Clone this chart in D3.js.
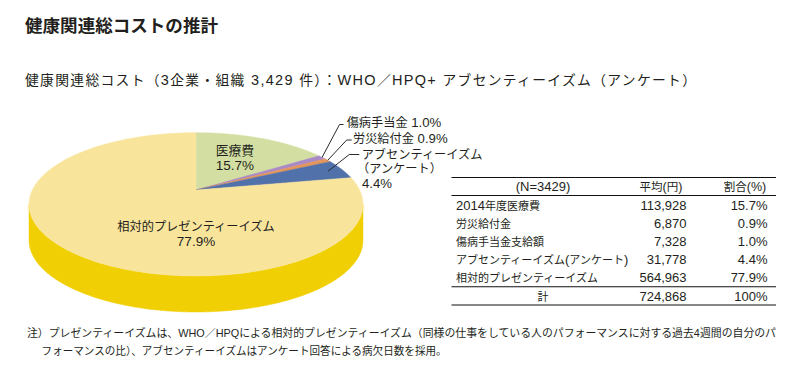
<!DOCTYPE html>
<html><head><meta charset="utf-8">
<script src="https://cdn.jsdelivr.net/npm/d3@7"></script>
<style>
html,body{margin:0;padding:0;background:#fff;}
svg{display:block;font-family:'Liberation Sans','Noto Sans CJK JP',sans-serif;}
</style></head>
<body><svg id="c" width="807" height="377"></svg>
<script>
// ---- data ----
const title = "健康関連総コストの推計";
const subtitle = "健康関連総コスト（3企業・組織 3,429 件）：WHO／HPQ+ アブセンティーイズム（アンケート）";
const sliceNames = ["医療費", "傷病手当金", "労災給付金", "アブセンティーイズム（アンケート）", "相対的プレゼンティーイズム"];
const sliceShares = [15.7, 1.0, 0.9, 4.4, 77.9];
const sliceColors = ["#d3dfa2", "#a98ac6", "#e3955c", "#5171aa", "#f9e49c"];
const tableHeader = ["(N=3429)", "平均(円)", "割合(%)"];
const tableLabels = ["2014年度医療費", "労災給付金", "傷病手当金支給額", "アブセンティーイズム(アンケート)", "相対的プレゼンティーイズム", "計"];
const tableAvg = [113928, 6870, 7328, 31778, 564963, 724868];
const tableShare = ["15.7%", "0.9%", "1.0%", "4.4%", "77.9%", "100%"];
const notes = [
  "注）プレゼンティーイズムは、WHO／HPQによる相対的プレゼンティーイズム（同様の仕事をしている人のパフォーマンスに対する過去4週間の自分のパ",
  "フォーマンスの比）、アブセンティーイズムはアンケート回答による病欠日数を採用。"
];

const svg = d3.select("#c");
const ink = "#231f20";

// text with separate sizes for CJK and Latin runs
function runs(sel, str, latin, cjk) {
  const re = /[\u3000-\u9fff\uff00-\uffef]+|[^\u3000-\u9fff\uff00-\uffef]+/g;
  (str.match(re) || []).forEach(r => {
    const isCjk = /[\u3000-\u9fff\uff00-\uffef]/.test(r[0]);
    sel.append("tspan").attr("font-size", isCjk ? cjk : latin).text(r);
  });
  return sel;
}

// ---- titles ----
svg.append("text").attr("x", 25).attr("y", 31.5).attr("fill", ink)
  .attr("font-weight", "bold").attr("font-size", 17.5)
  .attr("textLength", 193).attr("lengthAdjust", "spacingAndGlyphs")
  .text(title);
runs(svg.append("text").attr("x", 25).attr("y", 85).attr("fill", ink)
  .attr("textLength", 671).attr("lengthAdjust", "spacing"), subtitle, 14.5, 13.8);

// ---- 3D pie ----
const cx = 196, cy = 190, A = 163.6, B = 68.8, persp = 0.2, depth = 36;
function proj(theta, r) {
  const X = r * Math.sin(theta), Z = r * Math.cos(theta);
  const w = 1 + persp * Z;
  return [cx + A * X / w, cy - B * Z / w];
}
const pie = d3.pie().sort(null).value(d => d)(sliceShares);
const line = d3.line();

// side (front visible part)
const thR = Math.acos(-persp), thL = 2 * Math.PI - thR;
const sideTop = d3.range(thR, thL, 0.01).concat([thL]).map(t => proj(t, 1));
const sideBot = sideTop.map(p => [p[0], p[1] + depth]).reverse();
svg.append("path").attr("d", line(sideTop.concat(sideBot)) + "Z")
  .attr("fill", "#f1cf05").attr("stroke", "#f1cf05").attr("stroke-width", 0.5);

// top faces
pie.forEach((s, i) => {
  const n = Math.max(4, Math.ceil((s.endAngle - s.startAngle) / 0.01));
  const pts = [[cx, cy]];
  for (let k = 0; k <= n; k++) pts.push(proj(s.startAngle + (s.endAngle - s.startAngle) * k / n, 1));
  svg.append("path").attr("d", line(pts) + "Z")
    .attr("fill", sliceColors[i]).attr("stroke", sliceColors[i]).attr("stroke-width", 0.5)
    .attr("stroke-linejoin", "round");
});

// inner labels
const mid = s => (s.startAngle + s.endAngle) / 2;
const pMed = proj(mid(pie[0]), 0.55);
runs(svg.append("text").attr("x", pMed[0]).attr("y", 154.5).attr("text-anchor", "middle").attr("fill", ink), sliceNames[0], 13.5, 12.8);
runs(svg.append("text").attr("x", pMed[0]).attr("y", 169.5).attr("text-anchor", "middle").attr("fill", ink), sliceShares[0].toFixed(1) + "%", 13.5, 12.8);
runs(svg.append("text").attr("x", cx).attr("y", 231).attr("text-anchor", "middle").attr("fill", ink), sliceNames[4], 13.5, 12.2);
runs(svg.append("text").attr("x", cx).attr("y", 246).attr("text-anchor", "middle").attr("fill", ink), sliceShares[4].toFixed(1) + "%", 13.5, 12.2);

// callouts
const callouts = [
  {i: 1, r: 1.0, elbow: [[343.5, 124.5], [339.5, 124.5]], lines: [[sliceNames[1] + " " + sliceShares[1].toFixed(1) + "%", 346.7, 127]]},
  {i: 2, r: 1.0, elbow: [[351.7, 140], [346.7, 140]], lines: [[sliceNames[2] + " " + sliceShares[2].toFixed(1) + "%", 353, 142.7]]},
  {i: 3, r: 0.9, elbow: [[359.3, 154.5], [349.3, 154.5]], lines: [["アブセンティーイズム", 361.7, 158.5], ["（アンケート）", 357, 172.7], [sliceShares[3].toFixed(1) + "%", 362, 188]]}
];
callouts.forEach(c => {
  const end = proj(mid(pie[c.i]), c.r);
  svg.append("path").attr("d", line(c.elbow.concat([end])))
    .attr("fill", "none").attr("stroke", "#2b2b2b").attr("stroke-width", 1);
  c.lines.forEach(l => runs(svg.append("text").attr("x", l[1]).attr("y", l[2]).attr("fill", ink), l[0], 13.2, 12.2));
});

// ---- table ----
const tx0 = 451.5, tx1 = 776, labelX = 456, avgX = 686.5, shareX = 767.5;
const headY = 186.5, rowY0 = 205.5, rowStep = 18;
const rules = [177.5, 195.5, 286.8, 305];
rules.forEach(y => svg.append("line").attr("x1", tx0).attr("x2", tx1).attr("y1", y).attr("y2", y)
  .attr("stroke", "#111").attr("stroke-width", 1.1));
const fmt = d3.format(",");
runs(svg.append("text").attr("x", 543).attr("y", headY + 4.5).attr("text-anchor", "middle").attr("fill", ink), tableHeader[0], 13, 11.5);
runs(svg.append("text").attr("x", 661).attr("y", headY + 4.5).attr("text-anchor", "middle").attr("fill", ink), tableHeader[1], 12.5, 11.5);
runs(svg.append("text").attr("x", 745).attr("y", headY + 4.5).attr("text-anchor", "middle").attr("fill", ink), tableHeader[2], 12.5, 11.5);
tableLabels.forEach((lab, i) => {
  const y = rowY0 + i * rowStep + 4.5 + (i === 5 ? 0.5 : 0);
  const last = i === tableLabels.length - 1;
  runs(svg.append("text").attr("x", last ? 543 : labelX).attr("y", y)
    .attr("text-anchor", last ? "middle" : "start").attr("fill", ink), lab, 13, 11);
  svg.append("text").attr("x", avgX).attr("y", y).attr("text-anchor", "end").attr("fill", ink)
    .attr("font-size", 13).text(fmt(tableAvg[i]));
  svg.append("text").attr("x", shareX).attr("y", y).attr("text-anchor", "end").attr("fill", ink)
    .attr("font-size", 13).text(tableShare[i]);
});

// ---- notes ----
svg.append("text").attr("x", 27).attr("y", 337).attr("fill", ink).attr("font-size", 10.8)
  .attr("textLength", 749).attr("lengthAdjust", "spacingAndGlyphs").text(notes[0]);
svg.append("text").attr("x", 41.6).attr("y", 355).attr("fill", ink).attr("font-size", 10.8)
  .attr("textLength", 405).attr("lengthAdjust", "spacingAndGlyphs").text(notes[1]);
</script></body></html>
